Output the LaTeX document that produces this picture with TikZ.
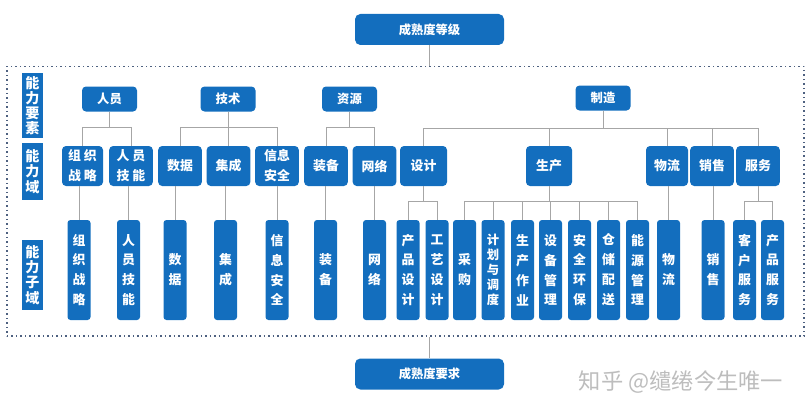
\documentclass[tikz,border=0pt]{standalone}
\usepackage{fontspec}
\setmainfont{Noto Sans CJK SC}
\usepackage{xcolor}
\usepackage{tikz}
\definecolor{CMBlue}{HTML}{136EBE}
\definecolor{CMLine}{HTML}{A6A6A6}
\definecolor{CMDot}{HTML}{4E6180}
\definecolor{CMMark}{HTML}{BDBDBD}

\begin{document}
\begin{tikzpicture}[x=0.3mm,y=-0.3mm,
  box/.style={fill=CMBlue,text=white,inner sep=0pt,align=center,font=\bfseries\fontsize{10.5}{13}\selectfont},
  lvlbox/.style={box,minimum width=44.7mm,minimum height=9.3mm,rounded corners=1.6mm},
  elembox/.style={box,minimum width=16.5mm,minimum height=7.5mm,rounded corners=1.2mm},
  dombox/.style={box,minimum width=13.1mm,minimum height=12mm,rounded corners=1.2mm,font=\bfseries\fontsize{11}{17}\selectfont},
  subbox/.style={box,minimum width=6.9mm,minimum height=30mm,rounded corners=0.9mm,font=\bfseries\fontsize{11}{17}\selectfont},
  sidebox/.style={box,minimum width=6.3mm,font=\bfseries\fontsize{12}{13}\selectfont},
  conn/.style={draw=CMLine,line width=0.7pt},
  frame/.style={draw=CMDot,line width=1.3pt,dash pattern=on 0.45mm off 0.9mm}]
\useasboundingbox (0,0) rectangle (811,416);
% levels and frame
\node[lvlbox] (lvl) at (429.5,29.5) {成熟度等级};
\node[frame,minimum width=239.1mm,minimum height=80.85mm] (frame) at (405.5,201.25) {};
\node[lvlbox] (req) at (429.5,374) {成熟度要求};
\draw[conn] (lvl.south) -- (lvl.south |- frame.north);
\draw[conn] (req.north) -- (req.north |- frame.south);
% side labels
\node[sidebox,minimum height=19.5mm] (side1) at (32.5,105.5) {能\\力\\要\\素};
\node[sidebox,minimum height=17.1mm] (side2) at (32.5,171.5) {能\\力\\域};
\node[sidebox,minimum height=21mm] (side3) at (32.5,275) {能\\力\\子\\域};
% elements
\node[elembox] (ry) at (109.5,99) {人员};
\node[elembox] (js) at (228,99) {技术};
\node[elembox] (zy) at (349.5,99) {资源};
\node[elembox] (zz) at (603,98) {制造};
% domains
\node[dombox,minimum width=12.3mm] (dZzzl) at (82.5,166) {组 织\\战 略};
\node[dombox] (dRyjn) at (131,166) {人 员\\技 能};
\node[dombox] (dSj) at (180,166) {数据};
\node[dombox] (dJc) at (228.5,166) {集成};
\node[dombox] (dXxaq) at (277,166) {信息\\安全};
\node[dombox] (dZb) at (326,166) {装备};
\node[dombox] (dWl) at (374.5,166) {网络};
\node[dombox,minimum width=14.1mm] (dSheji) at (423.5,166) {设计};
\node[dombox,minimum width=13.8mm] (dSc) at (549,166) {生产};
\node[dombox,minimum width=12.6mm] (dWliu) at (667,166) {物流};
\node[dombox] (dXs) at (712,166) {销售};
\node[dombox] (dFw) at (758,166) {服务};
% sub-domains
\node[subbox] (sZzzl) at (79,270) {组\\织\\战\\略};
\node[subbox] (sRyjn) at (128.5,270) {人\\员\\技\\能};
\node[subbox] (sSj) at (175,270) {数\\据};
\node[subbox] (sJc) at (225.5,270) {集\\成};
\node[subbox] (sXxaq) at (277,270) {信\\息\\安\\全};
\node[subbox] (sZb) at (325.5,270) {装\\备};
\node[subbox] (sWl) at (374.5,270) {网\\络};
\node[subbox] (sCpsj) at (408,270) {产\\品\\设\\计};
\node[subbox] (sGysj) at (437,270) {工\\艺\\设\\计};
\node[subbox] (sCg) at (464.5,270) {采\\购};
\node[subbox,font=\bfseries\fontsize{10.5}{12.8}\selectfont] (sJhdd) at (493,270) {计\\划\\与\\调\\度};
\node[subbox] (sSczy) at (522.5,270) {生\\产\\作\\业};
\node[subbox] (sSbgl) at (550.5,270) {设\\备\\管\\理};
\node[subbox] (sAqhb) at (579.5,270) {安\\全\\环\\保};
\node[subbox] (sCcps) at (608.5,270) {仓\\储\\配\\送};
\node[subbox] (sNygl) at (637.5,270) {能\\源\\管\\理};
\node[subbox] (sWliu) at (668.5,270) {物\\流};
\node[subbox] (sXs) at (713,270) {销\\售};
\node[subbox] (sKhfw) at (744.5,270) {客\\户\\服\\务};
\node[subbox] (sCpfw) at (772.5,270) {产\\品\\服\\务};
% element -> domain
\draw[conn] (ry.south) -- ++(0,16) -| (dZzzl.north);
\draw[conn] (ry.south) -- ++(0,16) -| (dRyjn.north);
\draw[conn] (js.south) -- ++(0,16) -| (dSj.north);
\draw[conn] (js.south) -- ++(0,16) -| (dJc.north);
\draw[conn] (js.south) -- ++(0,16) -| (dXxaq.north);
\draw[conn] (zy.south) -- ++(0,16) -| (dZb.north);
\draw[conn] (zy.south) -- ++(0,16) -| (dWl.north);
\draw[conn] (zz.south) -- ++(0,17.5) -| (dSheji.north);
\draw[conn] (zz.south) -- ++(0,17.5) -| (dSc.north);
\draw[conn] (zz.south) -- ++(0,17.5) -| (dWliu.north);
\draw[conn] (zz.south) -- ++(0,17.5) -| (dXs.north);
\draw[conn] (zz.south) -- ++(0,17.5) -| (dFw.north);
% domain -> sub-domain
\draw[conn] (sZzzl.north |- dZzzl.south) -- (sZzzl.north);
\draw[conn] (sRyjn.north |- dRyjn.south) -- (sRyjn.north);
\draw[conn] (sSj.north |- dSj.south) -- (sSj.north);
\draw[conn] (sJc.north |- dJc.south) -- (sJc.north);
\draw[conn] (sXxaq.north |- dXxaq.south) -- (sXxaq.north);
\draw[conn] (sZb.north |- dZb.south) -- (sZb.north);
\draw[conn] (sWl.north |- dWl.south) -- (sWl.north);
\draw[conn] (dSheji.south) -- ++(0,15) -| (sCpsj.north);
\draw[conn] (dSheji.south) -- ++(0,15) -| (sGysj.north);
\draw[conn] (dSc.south) -- ++(0,15) -| (sCg.north);
\draw[conn] (dSc.south) -- ++(0,15) -| (sJhdd.north);
\draw[conn] (dSc.south) -- ++(0,15) -| (sSczy.north);
\draw[conn] (dSc.south) -- ++(0,15) -| (sSbgl.north);
\draw[conn] (dSc.south) -- ++(0,15) -| (sAqhb.north);
\draw[conn] (dSc.south) -- ++(0,15) -| (sCcps.north);
\draw[conn] (dSc.south) -- ++(0,15) -| (sNygl.north);
\draw[conn] (sWliu.north |- dWliu.south) -- (sWliu.north);
\draw[conn] (sXs.north |- dXs.south) -- (sXs.north);
\draw[conn] (dFw.south) -- ++(0,15) -| (sKhfw.north);
\draw[conn] (dFw.south) -- ++(0,15) -| (sCpfw.north);
% watermark
\node[text=CMMark,font=\fontsize{19}{19}\selectfont] (mark) at (681,382) {知乎 @缱绻今生唯一};
\end{tikzpicture}
\end{document}
